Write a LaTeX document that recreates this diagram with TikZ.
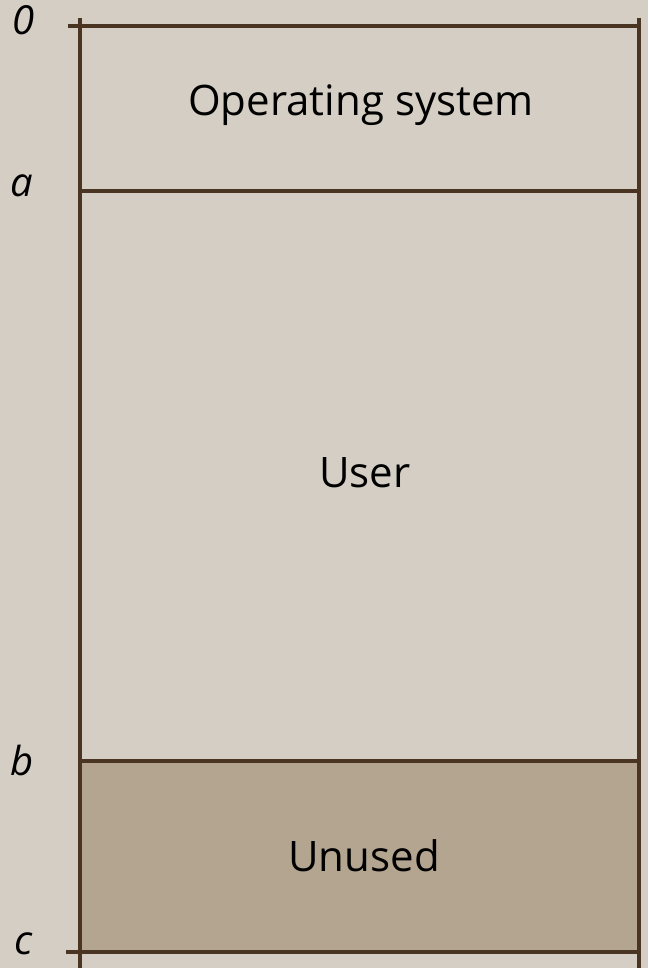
\documentclass[tikz,border=0pt]{standalone}
\usepackage{fontspec}
\setmainfont{Open Sans}
\definecolor{bg}{HTML}{D4CEC4}
\definecolor{unused}{HTML}{B4A590}
\definecolor{edge}{HTML}{4A3522}
\begin{document}
\begin{tikzpicture}[x=1pt,y=-1pt,
  bound/.style={draw=edge,line width=3.2pt},
  lbl/.style={font=\fontsize{40}{44}\selectfont\itshape,anchor=center},
  txt/.style={font=\fontsize{42}{46}\selectfont,anchor=center}]
\fill[bg] (0,0) rectangle (648,968);
\useasboundingbox (0,0) rectangle (648,968);
\fill[unused] (80,761) rectangle (639,952);
\draw[bound] (68,26) -- (639,26);
\draw[bound] (80,191) -- (639,191);
\draw[bound] (80,761) -- (639,761);
\draw[bound] (66,952) -- (639,952);
\draw[bound] (80,18) -- (80,968);
\draw[bound] (639,18) -- (639,968);
\node[lbl] (l0) at (24,20) {0};
\node[lbl] (la) at (22,186) {a};
\node[lbl] (lb) at (22,760) {b};
\node[lbl] (lc) at (24,944) {c};
\node[txt] (os) at (361,105) {Operating system};
\node[txt] (user) at (365,473) {User};
\node[txt] (unused) at (364,856) {Unused};
\end{tikzpicture}
\end{document}
